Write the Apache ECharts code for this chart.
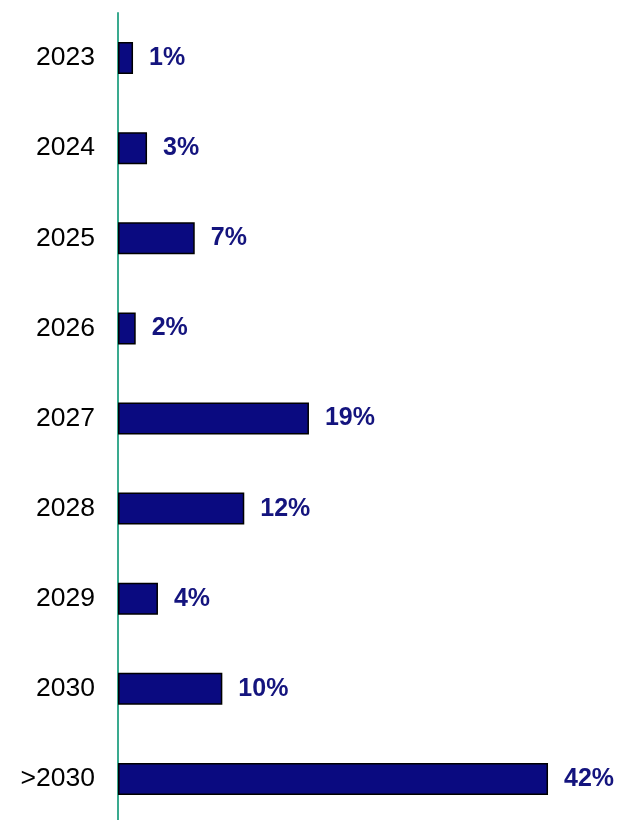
<!DOCTYPE html>
<html>
<head>
<meta charset="utf-8">
<script src="https://cdn.jsdelivr.net/npm/echarts@6/dist/echarts.min.js"></script>
<style>
html,body{margin:0;padding:0;background:#fff;}
#chart{width:618px;height:820px;}
</style>
</head>
<body>
<div id="chart"></div>
<script>
const categories = ['2023','2024','2025','2026','2027','2028','2029','2030','>2030'];
const values = [1.46, 2.82, 7.45, 1.72, 18.54, 12.26, 3.88, 10.13, 41.75];
const valueLabels = ['1%','3%','7%','2%','19%','12%','4%','10%','42%'];

const chart = echarts.init(document.getElementById('chart'), null, {renderer:'canvas'});
chart.setOption({
  animation: false,
  backgroundColor: '#ffffff',
  grid: { left: 118, top: 13, width: 515, height: 811, containLabel: false, outerBoundsMode: 'none' },
  xAxis: {
    type: 'value', min: 0, max: 50,
    show: false
  },
  yAxis: {
    type: 'category',
    data: categories,
    inverse: true,
    axisLine: { show: true, lineStyle: { color: '#3aaa8f', width: 2 } },
    axisTick: { show: false },
    axisLabel: {
      color: '#000000', fontSize: 26.5, fontFamily: 'Liberation Sans, Arial, sans-serif',
      margin: 23
    },
    splitLine: { show: false }
  },
  series: [{
    type: 'bar',
    data: values,
    barWidth: 32,
    itemStyle: { color: '#0a0a80', borderColor: '#000000', borderWidth: 1.5 },
    label: {
      show: true, position: 'right', distance: 16,
      color: '#14147e', fontSize: 25, fontWeight: 'bold',
      fontFamily: 'Liberation Sans, Arial, sans-serif',
      formatter: p => valueLabels[p.dataIndex]
    }
  }]
});
</script>
</body>
</html>
